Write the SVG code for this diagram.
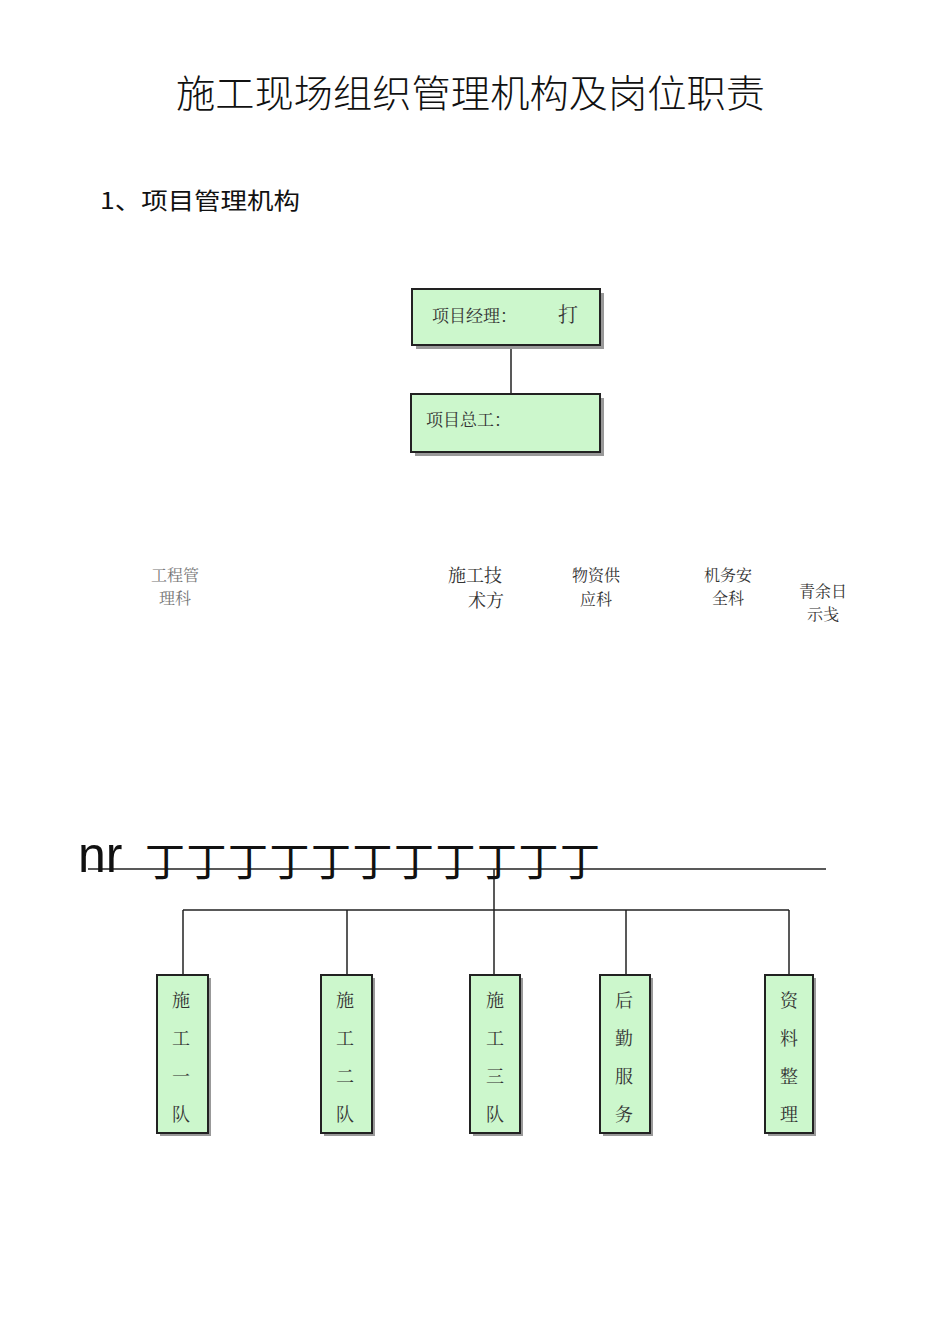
<svg xmlns="http://www.w3.org/2000/svg" width="950" height="1344" viewBox="0 0 950 1344">
<style>
.s{font-family:"Noto Serif CJK SC","Noto Sans CJK SC",serif;fill:#333}
.b{fill:#ccf7cc;stroke:#222;stroke-width:2}
.sh{fill:#999}
.l{stroke:#222;stroke-width:1.5;fill:none}
.c{text-anchor:middle}
</style>
<rect width="950" height="1344" fill="#fff"/>
<text x="176" y="107" textLength="589" lengthAdjust="spacingAndGlyphs" style="font-family:'Noto Sans CJK SC',sans-serif;font-size:38px;font-weight:300" fill="#111">施工现场组织管理机构及岗位职责</text>
<text x="100" y="209" textLength="200" lengthAdjust="spacingAndGlyphs" style="font-family:'Noto Sans CJK SC',sans-serif;font-size:23px" fill="#111">1、项目管理机构</text>
<g id="connectors">
<line class="l" x1="511" y1="345" x2="511" y2="394"/>
<line class="l" x1="511" y1="452" x2="511" y2="456"/>
<line class="l" x1="88" y1="869" x2="826" y2="869"/>
<line class="l" x1="494" y1="869" x2="494" y2="910"/>
<line class="l" x1="183" y1="910" x2="789" y2="910"/>
<line class="l" x1="183" y1="910" x2="183" y2="975"/>
<line class="l" x1="347" y1="910" x2="347" y2="975"/>
<line class="l" x1="494" y1="910" x2="494" y2="975"/>
<line class="l" x1="626" y1="910" x2="626" y2="975"/>
<line class="l" x1="789" y1="910" x2="789" y2="975"/>
</g>
<g id="pm"><rect class="sh" x="416" y="293" width="188" height="56"/><rect class="b" x="412" y="289" width="188" height="56"/>
<text x="432" y="322" class="s" font-size="17">项目经理：</text><text x="558" y="322" class="s" font-size="20">打</text></g>
<g id="ce"><rect class="sh" x="415" y="398" width="189" height="58"/><rect class="b" x="411" y="394" width="189" height="58"/>
<text x="426" y="426" class="s" font-size="17">项目总工：</text></g>
<g id="d1"><text x="175" y="581" class="c s" font-size="16" style="fill:#777">工程管</text><text x="175" y="604" class="c s" font-size="16" style="fill:#777">理科</text></g>
<g id="d2"><text x="475" y="582" class="c s" font-size="18">施工技</text><text x="486" y="607" class="c s" font-size="18">术方</text></g>
<g id="d3"><text x="596" y="581" class="c s" font-size="16">物资供</text><text x="596" y="605" class="c s" font-size="16">应科</text></g>
<g id="d4"><text x="728" y="581" class="c s" font-size="16">机务安</text><text x="728" y="604" class="c s" font-size="16">全科</text></g>
<g id="d5"><text x="823" y="597" class="c s" font-size="16">青余日</text><text x="823" y="620" class="c s" font-size="16">示戋</text></g>
<text x="78" y="872" style="font-family:'Liberation Sans',sans-serif;font-size:50px" fill="#111">nr</text>
<text x="145" y="876" textLength="455" lengthAdjust="spacing" style="font-family:'Noto Sans CJK SC',sans-serif;font-size:40px" fill="#111">丁丁丁丁丁丁丁丁丁丁丁</text>
<g id="t1"><rect class="sh" x="160" y="978" width="51" height="158"/><rect class="b" x="157" y="975" width="51" height="158"/>
<text class="c s" font-size="18"><tspan x="181" y="1007">施</tspan><tspan x="181" y="1045">工</tspan><tspan x="181" y="1083">一</tspan><tspan x="181" y="1121">队</tspan></text></g>
<g id="t2"><rect class="sh" x="324" y="978" width="51" height="158"/><rect class="b" x="321" y="975" width="51" height="158"/>
<text class="c s" font-size="18"><tspan x="345" y="1007">施</tspan><tspan x="345" y="1045">工</tspan><tspan x="345" y="1083">二</tspan><tspan x="345" y="1121">队</tspan></text></g>
<g id="t3"><rect class="sh" x="473" y="978" width="50" height="158"/><rect class="b" x="470" y="975" width="50" height="158"/>
<text class="c s" font-size="18"><tspan x="495" y="1007">施</tspan><tspan x="495" y="1045">工</tspan><tspan x="495" y="1083">三</tspan><tspan x="495" y="1121">队</tspan></text></g>
<g id="t4"><rect class="sh" x="603" y="978" width="50" height="158"/><rect class="b" x="600" y="975" width="50" height="158"/>
<text class="c s" font-size="18"><tspan x="624" y="1007">后</tspan><tspan x="624" y="1045">勤</tspan><tspan x="624" y="1083">服</tspan><tspan x="624" y="1121">务</tspan></text></g>
<g id="t5"><rect class="sh" x="768" y="978" width="48" height="158"/><rect class="b" x="765" y="975" width="48" height="158"/>
<text class="c s" font-size="18"><tspan x="789" y="1007">资</tspan><tspan x="789" y="1045">料</tspan><tspan x="789" y="1083">整</tspan><tspan x="789" y="1121">理</tspan></text></g>
</svg>
